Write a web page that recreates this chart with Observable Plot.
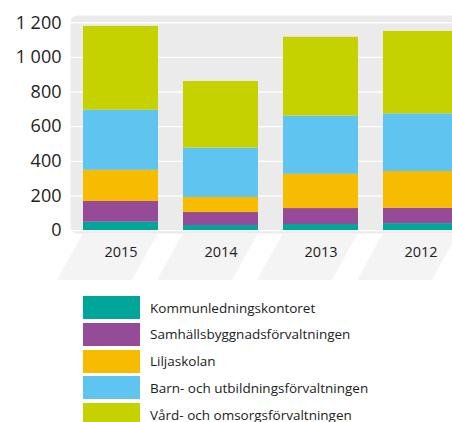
<!DOCTYPE html>
<html>
<head>
<meta charset="utf-8">
<script src="https://cdn.jsdelivr.net/npm/d3@7"></script>
<script src="https://cdn.jsdelivr.net/npm/@observablehq/plot@0.6"></script>
<style>
  html, body { margin: 0; padding: 0; background: #fff; }
  body { font-family: "Open Sans", sans-serif; color: #222; }
  #wrap { width: 452px; height: 422px; overflow: hidden; position: relative; }
  #chart svg { display: block; overflow: visible; max-width: none !important; width: 471px; height: 285px; }
  #legend { margin-top: 11px; margin-left: 83px; }
  .item { display: flex; align-items: center; height: 23px; margin-bottom: 3.8px; }
  .sw { width: 57px; height: 23px; flex: none; }
  .lab { margin-left: 10px; font-size: 13.5px; color: #222; white-space: nowrap; }
</style>
</head>
<body>
<div id="wrap">
  <div id="chart"></div>
  <div id="legend"></div>
</div>
<script>
const years = ["2015", "2014", "2013", "2012"];
const departments = [
  "Kommunledningskontoret",
  "Samhällsbyggnadsförvaltningen",
  "Liljaskolan",
  "Barn- och utbildningsförvaltningen",
  "Vård- och omsorgsförvaltningen"
];
const colors = ["#00a699", "#954b97", "#f7bb00", "#5fc4f0", "#c5d200"];
const kommunledning = [48, 29, 35, 40];
const samhallsbyggnad = [120, 75, 92, 89];
const liljaskolan = [180, 87, 198, 212];
const barnUtbildning = [347, 285, 336, 333];
const vardOmsorg = [484, 385, 455, 476];
const yTicks = [0, 200, 400, 600, 800, 1000, 1200];

const series = [kommunledning, samhallsbyggnad, liljaskolan, barnUtbildning, vardOmsorg];
const data = [];
years.forEach((year, i) => {
  departments.forEach((dept, j) => {
    data.push({year, dept, value: series[j][i]});
  });
});

const fmt = d => d3.format(",")(d).replace(/,/g, " ");

// label band below the plot (in y units, below the zero line)
const frameBottom = -17;
const bandBottom = -288;

function skewed(index, scales, values, dims, context, next) {
  const g = next(index, scales, values, dims, context);
  const wrap = document.createElementNS("http://www.w3.org/2000/svg", "g");
  const y0 = scales.y(frameBottom);
  wrap.setAttribute("transform", `translate(0,${y0}) skewX(-29) translate(0,${-y0})`);
  wrap.appendChild(g);
  return wrap;
}

const chart = Plot.plot({
  width: 471,
  height: 285,
  marginLeft: 70,
  marginRight: 0,
  marginTop: 15,
  marginBottom: 52,
  style: {fontFamily: "Open Sans, sans-serif", color: "#222", background: "transparent", maxWidth: "none"},
  x: {domain: years, paddingInner: 0.255, paddingOuter: 0.12, label: null},
  y: {domain: [frameBottom, 1242], label: null},
  color: {domain: departments, range: colors},
  marks: [
    Plot.frame({fill: "#ebebeb", stroke: null, rx: 7}),
    Plot.barY(years, {x: d => d, y1: frameBottom, y2: bandBottom, fill: "#f4f4f4", render: skewed}),
    Plot.ruleY(yTicks, {stroke: "#ffffff", strokeWidth: 1.3}),
    Plot.barY(data, {x: "year", y: "value", fill: "dept"}),
    Plot.axisY(yTicks, {tickSize: 0, tickPadding: 9, tickFormat: fmt, fontSize: 18, fill: "#222", label: null}),
    Plot.axisX({tickSize: 0, tickPadding: 13, fontSize: 14.5, fill: "#222", label: null})
  ]
});
document.getElementById("chart").appendChild(chart);

const legend = document.getElementById("legend");
departments.forEach((dept, i) => {
  const item = document.createElement("div");
  item.className = "item";
  const sw = document.createElement("div");
  sw.className = "sw";
  sw.style.background = colors[i];
  const lab = document.createElement("div");
  lab.className = "lab";
  lab.textContent = dept;
  item.appendChild(sw);
  item.appendChild(lab);
  legend.appendChild(item);
});
</script>
</body>
</html>
